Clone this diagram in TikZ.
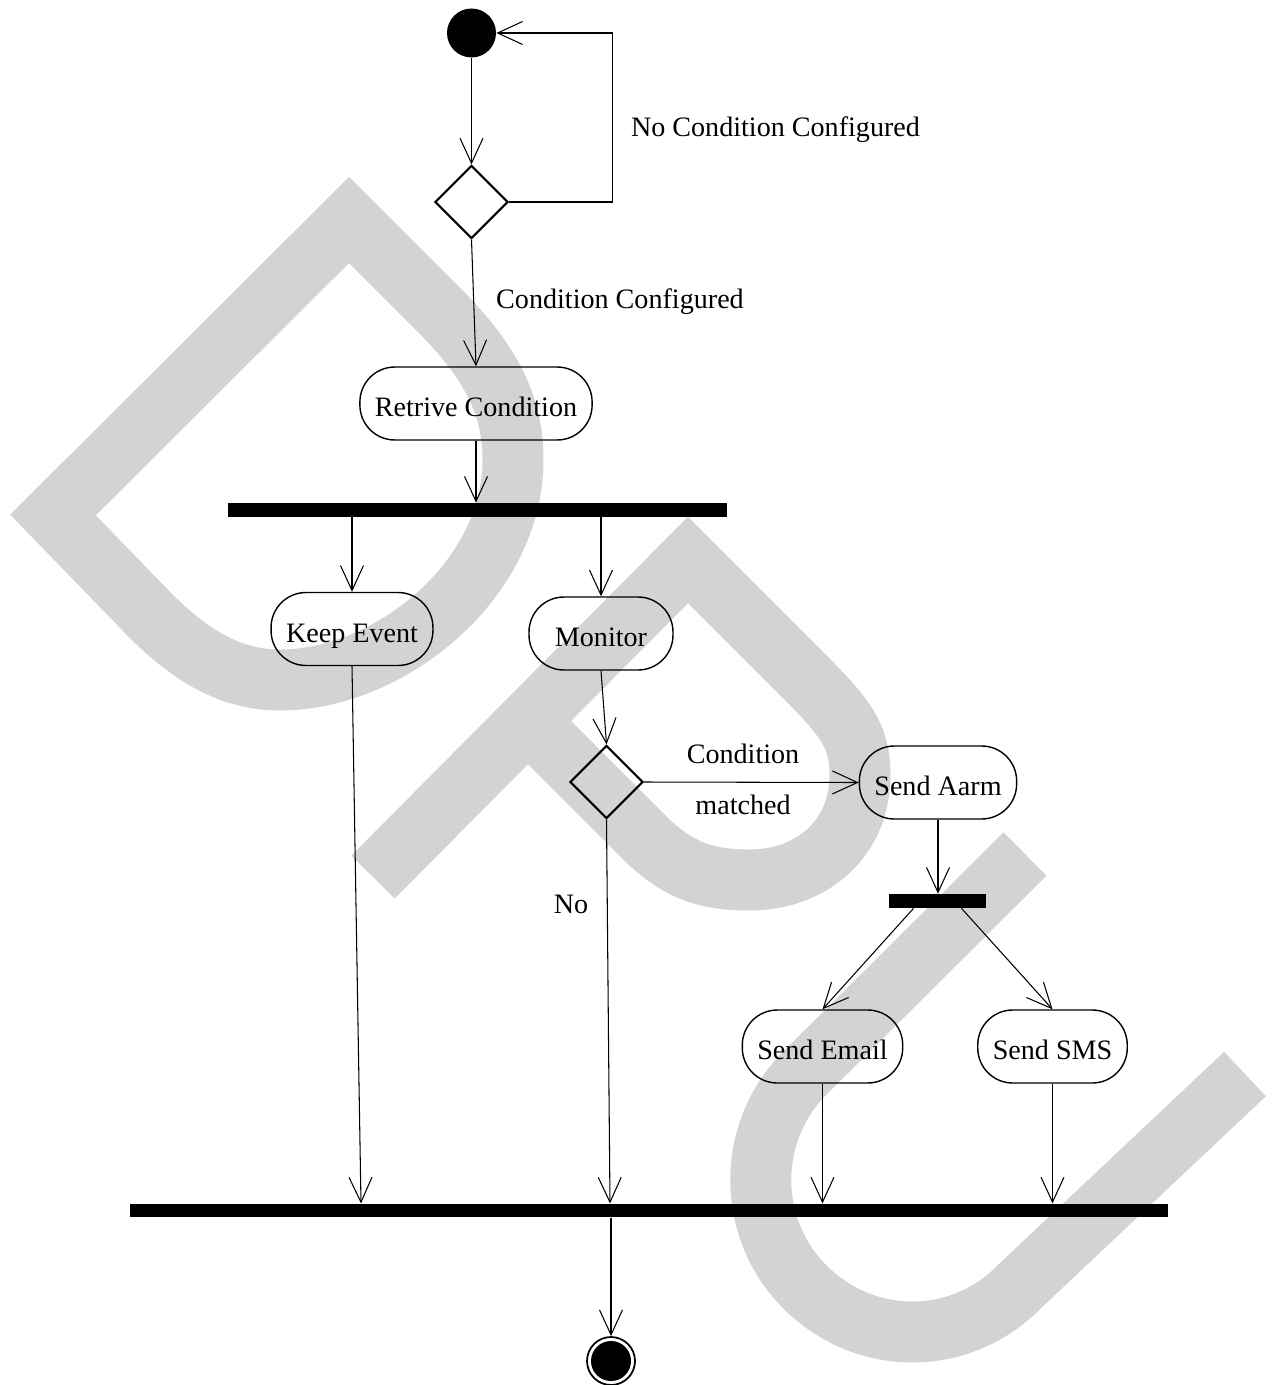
\documentclass[tikz,border=0pt]{standalone}
\usepackage{fontspec}
\setmainfont{Liberation Serif}
\usetikzlibrary{arrows.meta,calc,positioning,shapes.geometric}
\definecolor{wmgray}{RGB}{211,211,211}

\begin{document}
\begin{tikzpicture}[x=0.02cm, y=-0.02cm,
  every node/.style={font=\fontsize{16}{19}\selectfont},
  flow/.style={line width=0.6pt, -{Straight Barb[length=5mm, width=4.6mm]}},
  activity/.style={draw, line width=0.8pt, rounded corners=7mm, minimum height=14.6mm,
    inner xsep=3mm, text height=15pt, text depth=0pt},
  choice/.style={draw, diamond, aspect=1, line width=1.2pt, minimum width=14.6mm, minimum height=14.6mm, inner sep=0pt},
  bar/.style={fill=black, inner sep=0pt, minimum height=2.8mm},
  initial/.style={circle, fill=black, inner sep=0pt, minimum size=9.8mm},
  final/.style={circle, draw, line width=1pt, inner sep=0pt, minimum size=9.6mm,
    path picture={\fill (path picture bounding box.center) circle (4mm);}},
  watermark/.style={draw=wmgray, line width=1.22cm}]

\useasboundingbox (0,0) rectangle (1272,1385);

% --- watermark (behind everything) ---
\draw[watermark, line join=miter] (53,515) -- (349,220) -- (440,311)
  .. controls (495,366) and (513,410) .. (513,460)
  .. controls (513,580) and (390,680) .. (280,680)
  .. controls (230,680) and (190,655) .. (150,615) -- cycle;
\draw[watermark, line join=miter] (373,877) -- (688,560) -- (800,672)
  .. controls (845,717) and (860,735) .. (860,775)
  .. controls (860,840) and (810,880) .. (750,880)
  .. controls (705,880) and (680,870) .. (650,843) -- (528,721);
\draw[watermark] (1025,854) -- (805,1073)
  .. controls (746,1132) and (746,1228) .. (805,1287)
  .. controls (865,1347) and (960,1347) .. (1019,1287) -- (1245,1074);

% --- nodes ---
\node[initial] (start) at (471.5,33) {};
\node[choice] (dec1) at (471.5,202) {};
\node[activity] (retrive) at (476,403.5) {Retrive Condition};
\node[bar, minimum width=9.98cm] (fork1) at (477.5,510) {};
\node[activity] (keep) at (352,629) {Keep Event};
\node[activity, minimum width=2.88cm] (monitor) at (601,633.5) {Monitor};
\node[choice] (dec2) at (606.5,782) {};
\node[activity] (alarm) at (938,782.5) {Send Aarm};
\node[bar, minimum width=1.94cm] (fork2) at (937.5,901) {};
\node[activity] (email) at (822.5,1046.5) {Send Email};
\node[activity] (sms) at (1052.5,1046.5) {Send SMS};
\node[bar, minimum width=20.76cm, minimum height=2.7mm] (join) at (649,1210.5) {};
\node[final] (stop) at (611,1361) {};

% --- labels ---
\node (lnocond) at (775.5,130) {No Condition Configured};
\node (lcond) at (620,302) {Condition Configured};
\node (lmatch1) at (743,754) {Condition};
\node (lmatch2) at (743,805) {matched};
\node (lno) at (571,904) {No};

% --- flows ---
\draw[flow] (start) -- (dec1.north);
\draw[flow] (dec1.east) -- ++(103,0) |- (start.east);
\draw[flow] (dec1.south) -- (retrive.north);
\draw[flow] (retrive.south) -- (retrive.south |- fork1.north);
\draw[flow] (fork1.south -| keep.north) -- (keep.north);
\draw[flow] (fork1.south -| monitor.north) -- (monitor.north);
\draw[flow] (monitor.south) -- (dec2.north);
\draw[flow] (dec2.east) -- (alarm.west);
\draw[flow] (alarm.south) -- (alarm.south |- fork2.north);
\draw[flow] ([xshift=-4.8mm]fork2.south) -- (email.north);
\draw[flow] ([xshift=4.8mm]fork2.south) -- (sms.north);
% ends on the join bar
\coordinate (keepin) at (361,1203.5);
\coordinate (noin) at (610,1203.5);
\draw[flow] (keep.south) -- (keepin);
\draw[flow] (dec2.south) -- (noin);
\draw[flow] (email.south) -- (email.south |- join.north);
\draw[flow] (sms.south) -- (sms.south |- join.north);
\draw[flow] (join.south -| stop.north) -- (stop.north);

\end{tikzpicture}
\end{document}
